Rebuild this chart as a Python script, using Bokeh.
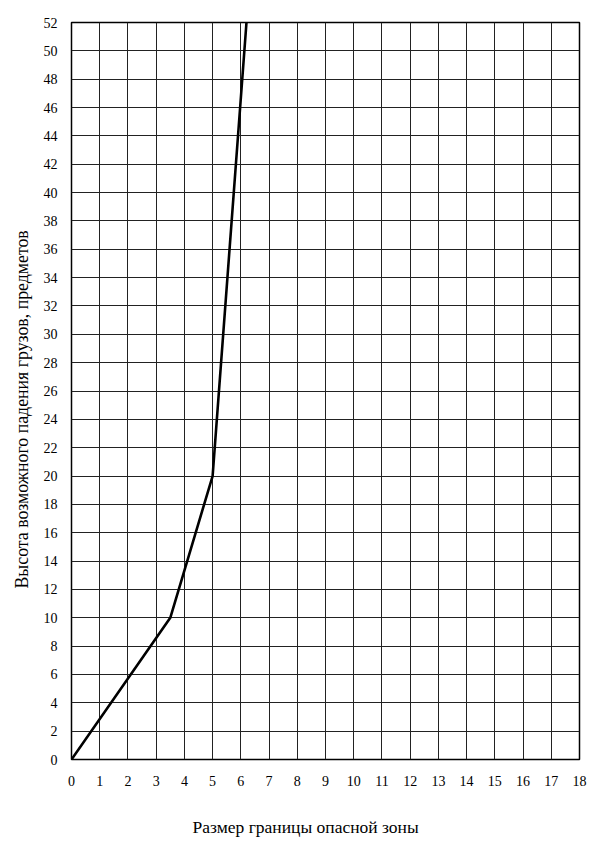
from bokeh.plotting import figure
from bokeh.models import FixedTicker, Range1d, Title
from bokeh.embed import file_html
from bokeh.resources import INLINE

# Data
zone_size = [0, 3.5, 5, 6.2]      # Размер границы опасной зоны
fall_height = [0, 10, 20, 52]     # Высота возможного падения
x_ticks = list(range(0, 19))
y_ticks = list(range(0, 53, 2))
x_title = "Размер границы опасной зоны"
y_title = "Высота возможного падения грузов, предметов"

FONT = "Liberation Serif"

p = figure(frame_width=508, frame_height=737, output_backend="svg",
           toolbar_location=None,
           x_range=Range1d(0, 18), y_range=Range1d(0, 52),
           min_border_left=40, min_border_right=10, min_border_top=22,
           min_border_bottom=40)

p.line(zone_size, fall_height, line_color="black", line_width=2.6)

for ax in (p.xaxis[0], p.yaxis[0]):
    ax.axis_line_color = None
    ax.major_tick_line_color = None
    ax.minor_tick_line_color = None
    ax.major_label_text_font = FONT
    ax.major_label_text_font_size = "14px"
    ax.major_label_text_color = "black"

p.xaxis.ticker = FixedTicker(ticks=x_ticks)
p.yaxis.ticker = FixedTicker(ticks=y_ticks)
p.xaxis.major_label_standoff = 10
p.yaxis.major_label_standoff = 8

xt = Title(text=x_title, align="left", offset=121, standoff=53,
           text_font=FONT, text_font_size="17.5px", text_font_style="normal",
           text_color="black")
yt = Title(text=y_title, align="left", offset=171, standoff=18,
           text_font=FONT, text_font_size="17.8px", text_font_style="normal",
           text_color="black")
p.add_layout(xt, "below")
p.add_layout(yt, "left")

p.xgrid.ticker = FixedTicker(ticks=x_ticks)
p.ygrid.ticker = FixedTicker(ticks=y_ticks)
for g in (p.xgrid[0], p.ygrid[0]):
    g.grid_line_color = "#222222"
    g.grid_line_width = 1
    g.grid_line_alpha = 1.0

p.outline_line_color = "black"
p.outline_line_width = 1.5
p.background_fill_color = "white"
p.border_fill_color = "white"

open("out.html", "w").write(file_html(p, INLINE))
